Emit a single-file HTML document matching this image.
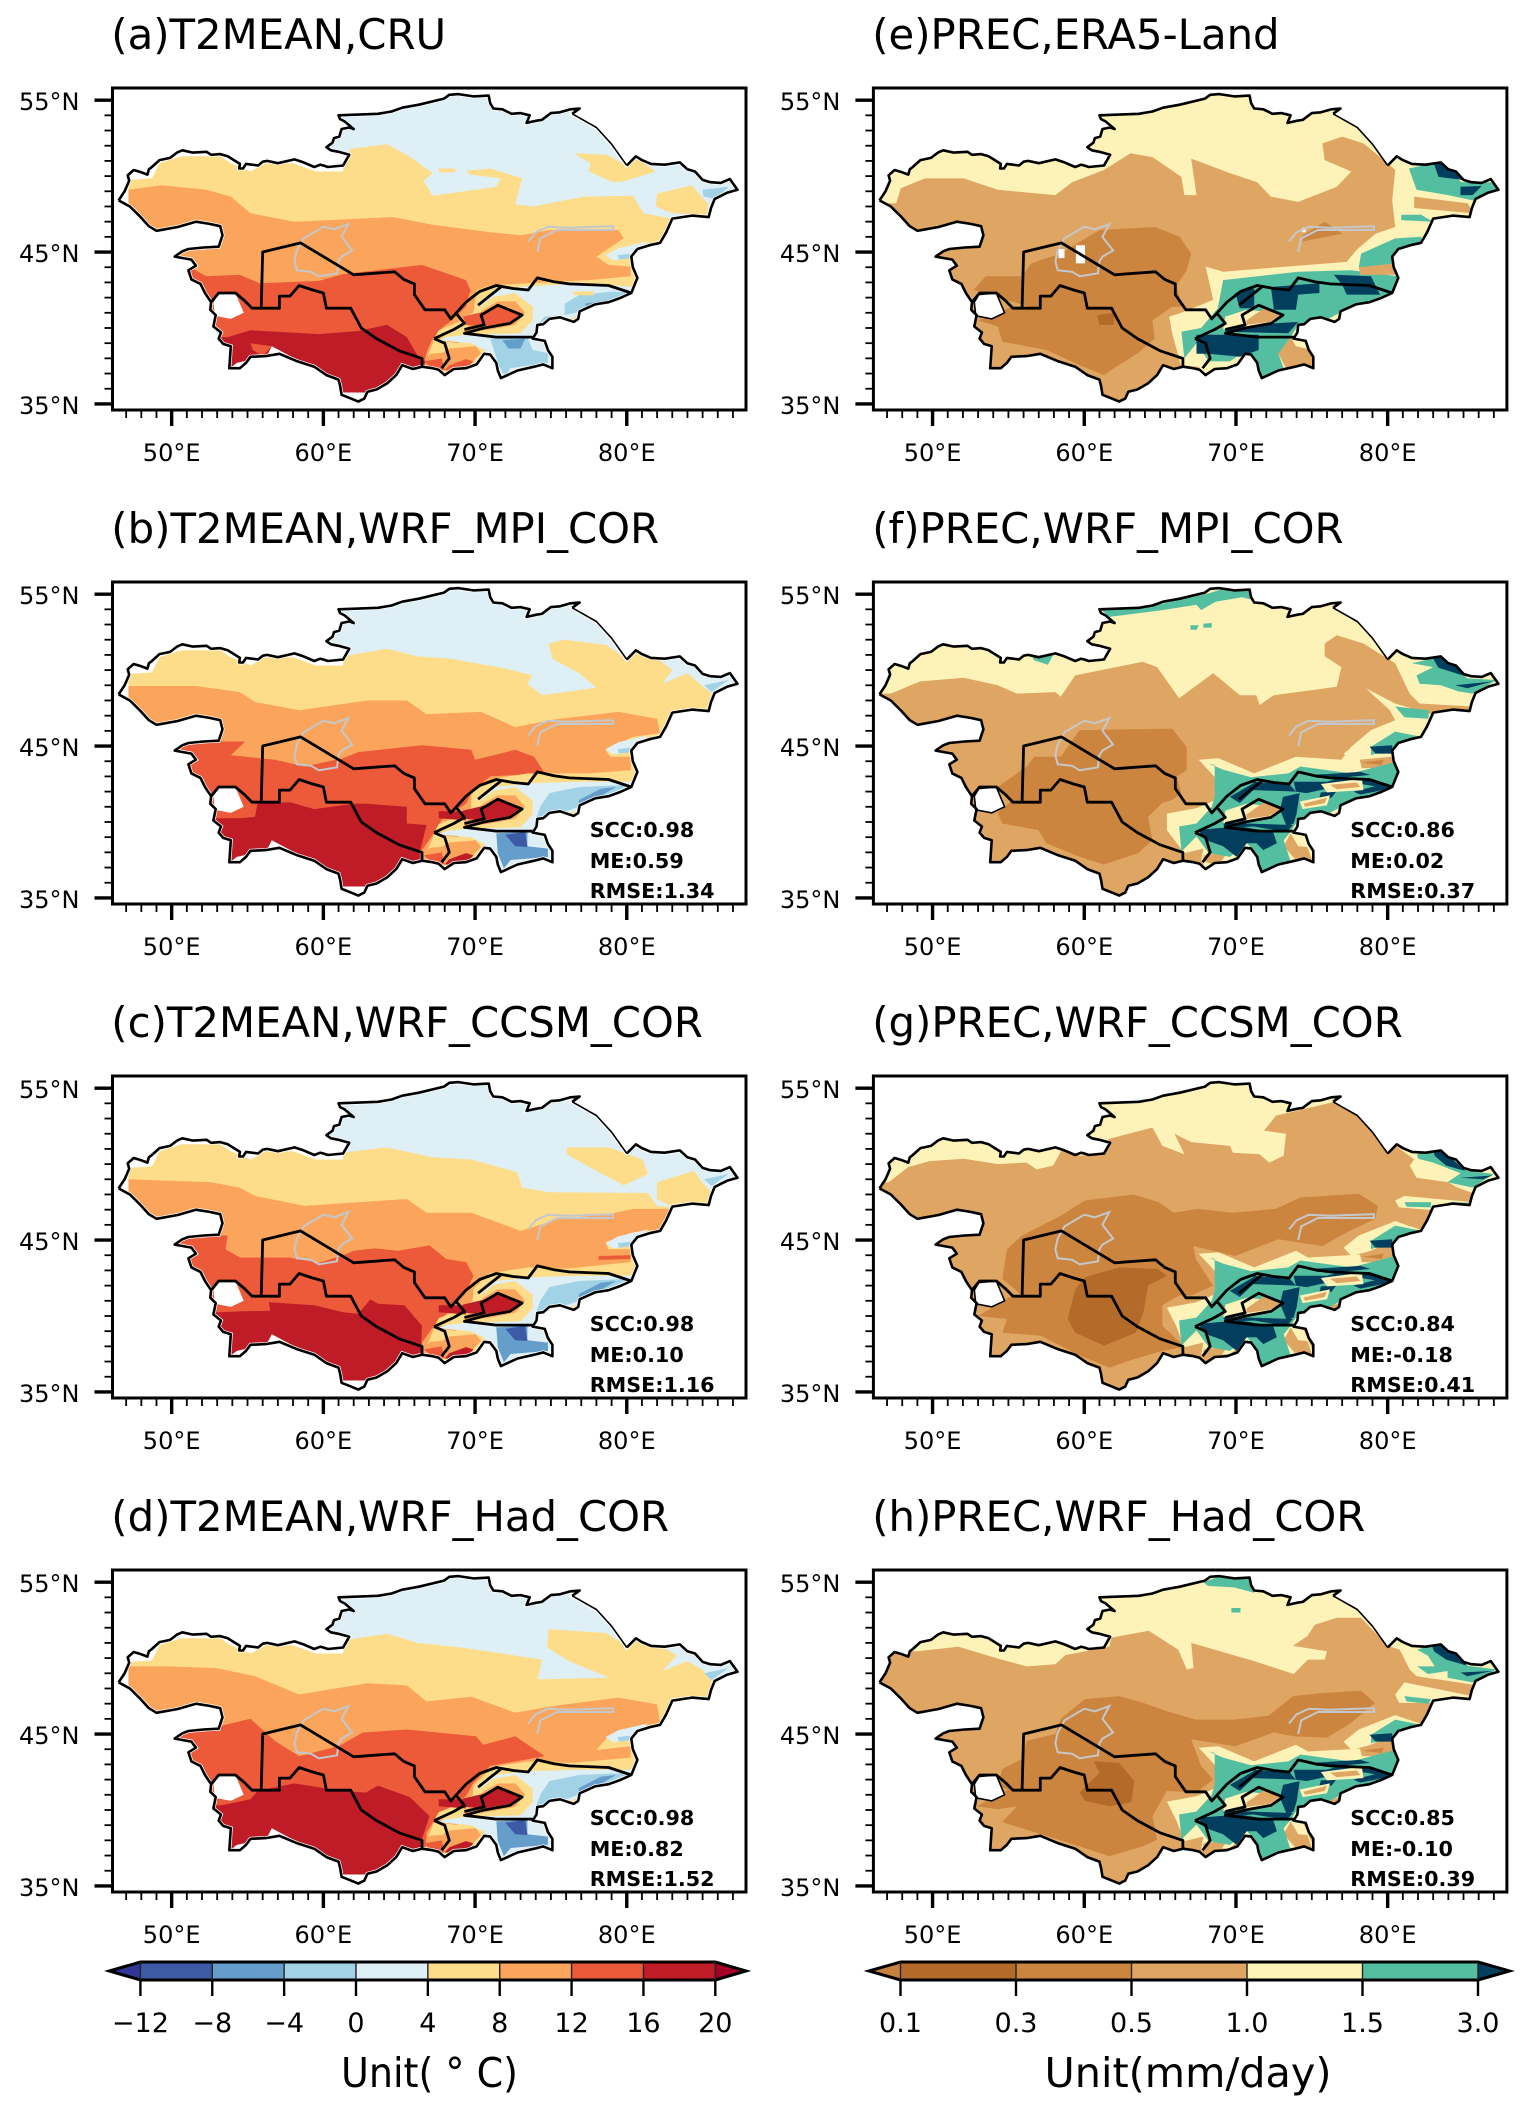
<!DOCTYPE html>
<html lang="en">
<head>
<meta charset="utf-8">
<title>Central Asia T2MEAN and PREC maps</title>
<style>
html,body{margin:0;padding:0;background:#fff;width:1530px;height:2113px;overflow:hidden}
svg{display:block;font-family:"DejaVu Sans","Liberation Sans",sans-serif}
</style>
</head>
<body>
<svg id="figure" xmlns="http://www.w3.org/2000/svg" width="1530" height="2113" viewBox="0 0 1530 2113"></svg>
<script>
/* ---------- labels and statistics ---------- */
const panelTitles=['(a)T2MEAN,CRU','(b)T2MEAN,WRF_MPI_COR','(c)T2MEAN,WRF_CCSM_COR','(d)T2MEAN,WRF_Had_COR','(e)PREC,ERA5-Land','(f)PREC,WRF_MPI_COR','(g)PREC,WRF_CCSM_COR','(h)PREC,WRF_Had_COR'];
const sccValues=['','0.98','0.98','0.98','','0.86','0.84','0.85'];
const meValues=['','0.59','0.10','0.82','','0.02','-0.18','-0.10'];
const rmseValues=['','1.34','1.16','1.52','','0.37','0.41','0.39'];
const lonTicks=[50,60,70,80];
const latTicks=[35,45,55];
const tBarLabels=['\u221212','\u22128','\u22124','0','4','8','12','16','20'];
const pBarLabels=['0.1','0.3','0.5','1.0','1.5','3.0'];
const tColors=['#313695','#3c5aa6','#659ecb','#a1d2e6','#deeff6','#fedd8a','#fba55c','#ec5a3a','#bf1c27','#a50026'];
const pColors=['#c6823c','#b46a28','#cc853f','#dfa663','#fdf2b8','#53bfa0','#023f5f'];

/* ---------- geography, lon/lat pairs ---------- */
const outlineWest=[46.5,48.4,46.9,49,47.2,49.7,47.1,50.05,47.5,50.4,48,50.25,48.4,50.1,48.5,50.45,48.7,50.6,49.2,51.05,49.9,51.2,50.35,51.55,50.7,51.7,51.4,51.55,52.3,51.6,52.6,51.4,53.2,51.45,53.7,51.3,54.1,51.05,54.5,50.8,54.45,50.5,54.7,50.5,54.9,50.8,55.7,50.7,56,50.95,56.3,51,57,50.85,58.1,51.1,58.7,50.9,59.4,50.6,59.8,50.75,60,50.7,60.3,50.6,61.3,50.7,61.7,51.4,61,51.6,60.5,51.7,60.2,51.9,60.6,52.2,60.7,52.5,61.05,52.6,61.2,53.1,61.7,53.2,62,53.1,61.4,53.6,61.1,53.75,61,54,62.3,54.05,63.6,54.1,64.5,54.25,65.2,54.5,66.3,54.7,67.96,55.1,68.3,55.35,68.9,55.4,69.9,55.25,70.9,55.3,71,54.8,71.2,54.45,71.8,54.4,72.4,54.1,73,54.15,73.6,54,73.4,53.5,74.05,53.65,74.4,53.7,75,54.15,75.6,54.2,76.3,54.4,76.9,54.45,76.4,54.1];
const outlineEast=[76.4,54.1,78,53.2,79,52.1,80,50.7];
const outlineSouth=[80,50.7,80.6,51.3,81,51.05,81.6,50.8,82.5,50.75,83.5,50.9,84,50.45,84.5,50.3,85,49.75,85.5,49.6,86.2,49.55,86.8,49.8,87.3,49.1,86.6,48.9,85.8,48.5,85.55,47.9,85.4,47.3,84.3,47.4,83,47.2,82.6,46.3,82.2,45.6,81.5,45.45,80.7,45.2,80.3,44.7,80.4,44,80.7,43.3,80.5,42.8,80.3,42.3,79.5,41.95,78.8,41.7,77.9,41.55,76.9,41.1,76.8,40.6,76.5,40.4,75.6,40.7,74.9,40.6,74.5,40.25,74.1,40.2,74.05,39.7,73.8,39.3,74.6,39.15,74.8,38.55,75.1,38.1,75.1,37.35,74.5,37.6,73.9,37.45,72.8,37.2,71.7,36.7,71.5,37.2,71.4,37.7,71,38.25,70.6,38.3,70.1,37.6,69.4,37.35,68.6,37.3,68,36.9,67.6,37.25,67.2,37.35,66.5,37.45,65.9,37.3,65.2,37.55,64.8,36.9,64.2,36.35,63.5,35.95,62.9,35.8,62.7,35.35,62.3,35.15,61.7,35.4,61.2,35.6,61.1,36.2,61,36.6,60.2,36.9,59.4,37.45,58.3,37.8,57.1,38.3,56.2,38.15,55.2,38.1,54.9,37.7,54.5,37.35,53.8,37.35,53.85,38.1,53.9,38.8,53.4,38.95,53.1,39.3,53.25,39.7,52.75,40.1,52.9,40.85,52.55,41.2,52.6,41.7,52.2,42.3,51.9,42.9,51.3,43.2,51.1,43.8,51.6,44.1,51.3,44.5,50.2,44.7,50.7,45.05,51.1,45.2,52.1,45.3,53.1,45.35,53.35,46.1,53.2,46.7,52.5,46.85,51.6,47,50.4,46.65,49,46.4,48.5,46.7,47.95,47.3,47.25,48,46.5,48.4];
const outline=outlineWest.concat(outlineEast,outlineSouth);
const borderNorth=[55.9,41.3,56,45,58.5,45.6,62,43.5,63.3,43.6,64.7,43.7,65.3,43.2,66,42.9,66,42.2,66.7,41.2,68,41.2,68.4,40.6,69.4,41.7,70.3,42.4,71.4,42.8,72.5,42.6,73.5,42.5,74.1,43.3,75.2,43.05,76.2,42.9,78.8,42.8,80.3,42.3];
const borderTurkmen=[52.6,41.7,53.1,42.3,54.2,42.3,54.8,41.8,55.3,41.3,57.1,41.3,57.1,42.1,57.8,42.1,58.4,42.8,59.3,42.5,60,42.3,60.2,41.3,61.8,41.3,62.5,40,63.5,39.3,65,38.5,66.5,38,66.5,37.45];
const borderTajikWest=[67.3,39.3,68,39,68.3,38,67.8,37.35];
const borderTajikUpper=[67.3,39.3,68.6,39.9,69.3,40.3,68.8,40.9];
const borderFergana=[69.3,39.9,70.6,40.2,70.4,40.85,71.5,41.5,73.1,40.85,72.3,40.3,70.6,40,69.3,39.65,71.4,39.4,73.8,39.4];
const borderTashkent=[70.2,41.5,71.2,42.3,71.7,42.7];
const lakeKara=[53.05,42.2,54.2,42.3,54.75,41,53.9,40.6,52.85,40.8,52.75,41.7];
const lakeAral=[60,46.67,60.7,46.5,61.65,46.84,61.2,46,61.9,45.1,61.2,44.7,61,44.4,60.9,43.6,59.7,43.4,59.2,43.7,58.25,43.8,58.1,44.4,58.25,45.1,58.7,45.9,60,46.67];
const lakeBalkhash=[73.5,45.7,74,46.3,74.8,46.67,76.2,46.6,77.5,46.65,79.1,46.7,79.1,46.45,77.5,46.45,75.4,46.45,74.3,45.9,74.1,45];
const tMaskNorthWest=[46,49.75,47.25,49.75,48.7,49.85,49.2,50.85,50.65,51.3,53.2,51.3,53.9,50.85,55.2,50.3,56.2,50.85,58,50.85,59.5,50.3,61.3,50.3,61.35,50.8,60.5,51.3,59.5,52.5,46,52.5];
const tMaskWest=[46,47.9,47.15,47.9,47.15,49.8,46,49.8];
const tMaskSouth=[60,35.75,64,35.75,64,34,60,34];
const tMaskSouthWest=[53.9,37.4,54.3,37.7,55.2,37.9,54.5,37.3];
const tMaskSouthPeak=[56.3,38.2,56.6,38.8,58.1,38,57,38.1];

/* ---------- temperature contours ---------- */
const a4=[45.1,52.8,59.4,51.9,61.5,51.3,61.8,51.8,64.2,52.1,65.5,51.4,67.2,50.2,66.6,49.7,67.2,48.7,71.4,49.3,71.7,49.85,69.7,50.1,69.4,50.35,71,50.5,72.3,50.1,73.1,49.85,72.65,48.15,73.8,48,77.2,48.65,80.4,48.7,81.1,47.55,83,47.2,82.2,45.8,80.7,44.9,84,33,45.1,33];
const a4North=[76.5,51.5,78.7,51.4,80,50.7,80.6,51.25,81.9,50.3,79.8,49.65,79.1,49.6,77.5,50.3,77.6,50.85];
const a4East=[82,48.85,84.3,49.4,84.9,48.65,85.35,48.2,85.3,47.45,83,47.55,81.9,48];
const a4Strip=[67.6,50.5,68.7,50.5,68.7,50.25,67.6,50.25];
const aEastCold=[85,49.1,86.7,49.3,85.9,48.5,85.05,48.65];
const a8=[45.1,49.1,47.15,49.1,49.35,49.4,52.3,49.1,53.9,48.65,55.2,47.55,58.1,47,64.6,47.3,67.2,46.8,71,46.3,73,46.1,74.9,46.45,79.45,46.45,79.8,45.9,78,44.7,78.8,44.15,80.25,44.05,80.25,43.4,77.5,43.15,73.5,42.95,71,42.8,70.1,42.5,69.7,39.65,66.8,37.45,66.5,33.1,45.1,33.1];
const a12=[48.4,44.05,51.1,44.05,52.3,43.4,54.5,43.5,55.8,42.95,59.7,43.1,61.3,43.55,66.5,44.15,69.4,43.15,69.7,42.5,69.4,41.4,68.45,40.5,67.8,40,67.15,39.2,66.8,38.35,66.65,37.7,67,37,66.8,33.1,48.4,33.1];
const a16=[51.6,39.4,53.7,39.4,55.2,39.85,59.7,39.6,62.3,39.8,64.2,40.2,65.5,39.4,66.2,38.2,66.75,37.8,64.6,33.1,51.6,33.1];
const aPatch=[55.2,39,56.6,38.8,56,38.15,55.35,38.55];
const aPamirCool=[71,39.3,73.45,39.4,73.8,38.55,74.8,38.35,74.8,37.7,72.3,37.35,72,36.8,71.6,37.45];
const aPamirCold=[71.8,39.2,73.3,39.3,73,38.65,72.2,38.65];
const aTianCool=[75.9,41.6,76.85,42.15,79.1,42.4,80.25,42.3,76.85,41.05,74.9,40.65,74.1,40.2,74.6,40.75,75.9,40.85];
const aTianCold=[77.2,41.6,78.8,41.85,77.5,41.3];
const aTianWarm=[76.5,42.4,77.8,42.4,77.8,42.15,76.5,42.15];

const b4=[45.1,52.85,59.4,52,61.3,50.9,64.2,51.4,66.2,50.9,68.45,50.75,72,50.1,73.8,49.65,73.45,49.1,74.4,48.35,78,48.85,76.85,49.8,75.1,50.75,74.85,51.75,75.9,52,78.65,51.65,80.05,50.7,80.6,51.3,82.2,50.65,83,50,82.35,49.1,84,49.8,84.8,49.1,85.6,48.45,85.45,47.15,83,46.9,82.2,45.6,84,33,45.1,33];
const b8=[45,48.95,47.15,48.95,51.6,48.95,54.5,48.55,55.5,47.9,58.4,47.35,62.9,48,65.5,48,66.8,47.1,70.4,47.25,72.65,46.25,75.2,46.75,79.45,47.25,82,46.8,82.2,45.85,80.4,45.6,78.6,44.75,78.9,44.3,80.25,44.3,80.25,43.4,77.5,43.2,74.6,43.2,71,42.75,69.75,41.9,69.75,39.7,66.8,37.5,66.5,33,45,33];
const b12=[48.4,45.3,51.25,45.3,54.85,45.3,53.9,44.4,56.8,44.1,58.75,43.65,61.3,44.2,62.3,44.6,66.5,45.05,69.75,44.75,70,44.1,72.65,44.75,73.9,44.3,74.6,43.2,71,43,69.85,42.1,69.4,41.2,67.8,40.15,67.15,39.05,66.35,37.95,66.65,33,48.4,33];
const b16=[51.6,40.25,54.5,40.25,55.5,40.35,55.65,41.2,57.8,41.3,59.4,40.85,62,41.2,62.9,41.2,65.5,41,65.5,39.9,66.8,39.8,66.5,38.6,66.35,38.05,66.5,33,51.6,33];
const c4=[45.1,52.85,59.4,52,61.3,50.75,64.2,51.1,67.15,50.45,69.75,50.3,72.8,49.45,73.1,48.45,74.9,48.15,81.4,48.1,82,47.25,83,47.15,82.2,45.7,84,33,45.1,33];
const c4North=[76.05,51.1,78.8,51.1,81.05,50.3,81.4,49.35,79.8,48.6,77.8,49.65,76.05,50.65];
const c4East=[82,48.8,84.45,49.55,84.95,48.8,85.6,48.15,85.45,47.25,83,47.15,82,47.7];
const c8=[45,49,47.15,49,52.6,48.8,54.5,48.45,55.5,47.9,58.75,47.25,65.5,47.7,66.8,46.8,69.75,46.8,73,45.6,75.55,46.4,78.8,46.7,80.4,47.05,82.9,47.05,82.2,45.7,80.4,45.5,78.6,44.85,78.8,44.4,80.25,44.4,80.25,43.55,75.9,43.1,71,42.85,69.9,41.8,69.75,39.8,66.8,37.6,66.5,33,45,33];
const c12=[48.4,45.3,51.3,45.3,53.7,45.3,53.55,44.4,54.5,43.85,57.75,43.85,59.7,43.5,61.3,44,62,44.3,63.4,44.45,64.9,44.3,67,44.65,68.1,43.75,69.4,43.55,69.9,42.65,69.4,41.55,67.8,39.8,67.15,39.15,66.5,38.25,66.5,33,48.4,33];
const c12East=[78.15,43.95,80.25,44,80.25,43.75,78.15,43.7];
const c16=[51.6,40.25,53.25,40.25,54.5,40.3,56.5,40.35,56.4,40.9,59.4,40.7,61.3,40.25,62.3,40.15,63.1,41.1,63.6,40.8,65.35,40.7,66.5,39.35,66.45,38.15,66.5,33,51.6,33];
const d4=[45.1,52.85,59.4,52,61.3,50.6,61.8,51.25,64.2,51.6,66.2,51,69.1,50.7,74.4,49.9,74.15,48.6,78.85,48.7,76.2,49.8,74.75,50.7,74.85,51.9,78.65,51.65,80,50.8,80.6,51.3,82.35,50.75,83.3,50.15,82.35,49.15,84,49.8,84.95,49.25,85.6,48.5,85.45,47.15,83,47.15,82.2,45.75,84,33,45.1,33];
const d8=[45,49.45,47.15,49.45,49.7,49.45,52.9,49.35,55.5,48.8,58.4,47.6,62.9,48.35,65.5,48.2,66.8,47.15,69.75,47.45,72.65,46.4,75.2,46.85,79.45,47.4,82,46.95,82.2,45.75,80.4,45.4,78.6,44.65,78,43.95,80.25,44.2,80.25,43.45,77.5,43.2,71,42.7,69.9,41.6,69.75,39.8,66.8,37.4,66.5,33,45,33];
const d12=[48.4,45.3,51.25,45.3,53.1,45.5,55.2,46,56.8,44.55,58.4,43.55,61,44.2,62.6,45.1,65.5,45.3,70.05,44.85,70.55,44.3,72.65,44.85,74.6,43.55,71,42.9,69.9,41.8,69.4,40.9,67.5,39.6,66.8,38.5,66.5,33,48.4,33];
const d16=[51.6,40.3,53.25,40.3,55.2,40.7,55.65,41.25,58.1,41.75,60,41.45,61,41.25,62.8,41.15,63.6,41.6,65.7,40.85,67,39.6,66.5,38.1,66.5,33,51.6,33];
const tEastCool=[85.1,49,86.7,49.35,85.6,48.55];
const tLakeLight=[78.6,44.8,79.45,45.25,81.4,45.7,80.25,44.6,79.1,44.45];
const tLakeCool=[79.4,44.8,80.3,44.9,80.3,44.6,79.5,44.5];
const tmLight=[70.2,41.3,71.2,42.5,73.6,42.75,77.5,42.95,80.4,42.7,80.4,41.85,76.9,40.75,74.9,40.4,74.1,40,73.95,39.4,75.1,38.55,75.25,37.25,71.7,36.6,71,37.7,70.55,38.55,69.75,39,67.5,39.2,68.8,39.65,73,40,73.8,40.75,73.8,41.4,72.65,42.2,71.4,41.75];
const tmNorthBand=[71.2,42.85,73.5,43.2,79.1,43,80.4,43.2,80.25,42.65,76.85,42.65,73.6,42.55,71.4,42.3];
const tmRing=[71.2,42.05,72.65,42.3,73.8,41.4,73.8,40.5,73,39.65,69.4,39.55,67.3,39.3,67.6,39.85,69.2,40.5,70.2,41.3];
const tmRingWarm=[71.5,41.75,72.65,41.75,73.3,41,72.65,40.2,70.7,39.85,69.3,39.75,69.8,40.5,70.55,41.2];
const tmFergana=[71.5,41.5,73.1,40.85,72.3,40.4,70.55,40.1,69.4,40.2,69.2,40.75,70.7,41.1];
const tmTajikYellow=[66.9,38.2,67.3,39.2,69.75,38.9,70.7,38.55,69.4,37.45,68.1,37.2,67.15,37.9];
const tmTajikOrange=[68.3,38.65,70.05,38.8,70.4,38.35,69.4,37.35,68,37.2,66.8,37.65,67,38.3,67.8,38.35];
const tmTajikRedWest=[66.65,37.8,67.8,38,68,37.2,67.2,37.25];
const tmTajikRedEast=[68.3,37.55,69.4,37.95,69.9,37.8,69.3,37.15,68,37.2];
const tmTianCool=[74.9,41.9,76.85,42.3,80.25,42.45,76.85,41,74.9,40.35,74,40.15,74.3,41];
const tmTianCold=[76.85,41.45,78.3,42.2,79.3,42.3,77.65,41.35,76.8,41];
const tmPamirCold=[71.4,39.25,73.45,39.35,73.45,38.4,74.8,38.25,74.8,37.7,72.35,37.5,71.9,36.95,71.5,37.95];
const tmPamirCore=[72,39.15,73.3,39.35,73.45,38.35,72.65,38.4];
const tmFerganaHot=[67.6,40.7,69.4,40.7,69.4,40.1,67.6,40.25];

/* ---------- precipitation contours ---------- */
const e1=[42.5,48.2,47.6,48.2,47.9,49.2,49.5,49.85,52.05,49.85,54.3,49.1,58.1,48.75,59.2,49.6,61.3,50.4,63.05,51.5,64.5,51.25,66.4,49.95,66.6,48.75,67.4,48.75,67.05,51.15,69.6,50.2,71.4,49.6,72.3,48.65,74.1,48.3,76.65,49.3,77.6,50.3,75.85,51.05,75.7,52.15,77,52.6,78.4,52.15,80,50.85,80.5,50.4,80.3,48.4,80.5,46.65,79.2,46.2,77.95,45.15,77.3,44.35,72.8,44,69.15,43.7,68,44.05,68.5,41.85,66.4,41,65.6,40.75,65.8,39.65,66.4,37.45,67.55,37.45,68,36.8,69.95,37.1,68,33.1,42.5,33];
const e1East=[81.75,48.65,85.3,48.2,85.6,47.55,81.75,47.9];
const e1Dzungar=[78.1,44,80.5,44.25,80.65,43.5,78.2,43.5];
const e1Pamir=[73.6,39.4,73.95,38.8,75.05,38.55,75.2,37.25,73.3,37.35,72.8,38.3];
const e03=[52.7,42.5,53.5,43.4,55.9,43.4,56.5,44.25,58.4,44.9,61,46.45,64.65,46.65,66.3,46,67.05,44.9,66.75,43.8,66.1,42.85,66.4,41.4,65.8,41.4,64.5,40.5,64.65,39.3,63.55,38.35,61.95,37.35,61.3,36.9,59.7,37.55,57.5,38.55,54.6,39.1,54.3,40.1,53,40.5,55.25,41.4,56.35,41.4];
const e03Balkhash=[74.4,46.1,75.85,47,77,46.2,74.4,45.7];
const e01=[60.85,40.85,62,41,61.95,40.2,61,40.2];
const eTealNE=[81.4,50.5,83,50.85,84.9,49.6,86.8,49.6,87.5,49,85.6,48.4,84,48.75,81.9,49.1];
const eNavyNE=[83,50.95,83.8,50.95,84.9,49.75,83.35,49.95];
const eNavyAltai=[84.8,49.3,86.2,49.35,85.6,48.75,84.8,48.75];
const eTealBar=[80.9,47.45,82.2,47.45,83,47,80.9,47.1];
const eTealBarEast=[84.7,47.3,85.6,47.35,85,46.9];
const eTealDzungar=[78.25,44.9,80.5,45.9,82.2,46,82.55,45.25,80.4,44.7,80.3,44.05,78.1,44];
const eTealTian=[69.15,43.15,74.1,43.7,77.6,43.8,80.7,43.4,80.4,42.4,76.95,41.05,75.7,40.4,74.1,40.2,73.6,39.4,72.8,38.3,73.15,37.35,71.7,36.7,71.4,37.7,70.75,38.55,69.6,37.8,68.2,37.8,67.4,39,66.6,38,66.4,39.75,67.7,40,68.8,41.3];
const eNavy1=[69.95,42.3,71.2,42.6,71.2,41.3,70.25,41.3];
const eNavy2=[72.3,42.7,75.5,42.95,75.5,42.3,74.1,42.2,73.95,41.2,72.5,41.2];
const eNavy3=[76.45,43.5,78.9,43.4,79.5,42.2,77.3,42.2,77,42.85];
const eNavy4=[67.4,39.55,71.5,39.55,71.5,38.55,70.25,38.1,68.2,38.3,67.4,38.3];
const eNavy5=[69.3,40.1,74.1,40.4,73.45,39.65,69.3,39.75];
const ferganaCream=[69.3,40.75,70.7,41.2,73.15,40.95,72.35,40.3,69.9,40,69.15,39.9];
const ferganaTan=[70.7,40.5,71.85,41.3,73,40.85,72.2,40.4,70.7,40.2];
const eWhite1=[58.3,45.2,58.7,45.2,58.7,44.6,58.3,44.6];
const eWhite2=[59.45,45.45,60.05,45.45,60.05,44.25,59.45,44.25];
const eWhite3=[74.35,46.6,74.6,46.6,74.6,46.3,74.35,46.3];

const f1=[42.5,48.45,47.25,48.45,49.15,49.25,52.05,49.5,54.3,49,55.55,48.45,58.1,48.55,58.45,48.25,59.4,49.65,63.85,50.55,64.8,50.2,66.25,48.15,68.5,49.8,70.25,48.35,71.35,48.35,71.55,47.7,72.5,48.35,76.65,48.9,76.95,50.2,75.85,50.9,75.85,51.75,76.65,52.3,78.4,51.75,80,50.75,80.5,50.45,81.45,48.45,82.1,47.8,85.6,47.6,85.45,46.9,83,47.05,80.5,47.8,78.55,48.8,80.15,47.35,80.5,46.7,78.9,46.05,77.6,44.95,76.95,44.1,73.95,44.3,73.75,43.4,71.2,43.2,69.95,43.4,68.65,43.85,67.55,44.1,68.8,42.75,68.65,41.45,67.4,40.9,65.45,40.55,65.45,39.45,66.6,37.95,66.75,37.4,67.85,37.4,68,33,42.5,33];
const f03=[54.3,42.3,56.2,43.65,56.7,44.3,58.45,44.3,59.7,46.05,65.8,46.15,66.75,44.95,66.75,43.4,66.1,43,66.4,41.9,65.8,41.45,65.15,41.25,64.2,40.35,64.5,38.8,63.55,37.95,61.3,37.2,59.7,37.7,57.5,38.6,57,39.45,54.6,39.9,54.3,40.6,55.25,41.45];
const fTealNorth=[61.15,53.95,64.85,54.3,68.2,55.05,69.15,55.35,71.05,55.25,71.2,54.6,70.4,54.8,68.65,54.5,67.7,53.95,67.4,54.3,65.15,53.95,61.65,53.5];
const fSpot1=[67,52.95,67.55,52.95,67.4,52.65,67,52.65];
const fSpot2=[67.85,53.05,68.4,53.1,68.4,52.8,67.85,52.8];
const fSpot3=[56.5,51,57.95,51,57.6,50.35,56.7,50.65];
const fTealNE=[81.6,50.45,82.9,50.75,84.3,50.2,85.25,49.45,87.2,49.35,85.6,48.45,84.65,48.6,83.5,49,82.1,49.1,81.9,49.65,83,50.2];
const fNavyNE=[82.9,50.9,83.85,50.9,85.25,49.55,83.35,50.15];
const fNavyAltai=[84.45,49,86.9,49.25,85.25,48.8];
const fTealBar=[80.5,47.6,82.7,47.35,82.7,46.8,81.1,46.9];
const fTealBarEast=[84,47.35,85.6,47.35,84.95,46.9];

const g1=[42.5,48.8,47.1,48.8,48.4,49.8,49.8,50.2,52.05,50.35,54.3,50,56.2,50.1,56.85,49.65,57.95,49.9,58.6,51.1,59.7,50.55,61.45,50.75,61.6,51.65,64.5,52.4,65.15,51.2,66.6,50.65,65.95,52,67.05,51.45,69.6,51.2,69.8,50.75,71.55,50.65,72.2,50.1,73.15,50.55,73.3,52,71.85,52.2,72.65,53.2,74.4,53.6,76.3,54.05,76.8,54.15,80.8,51,81.75,50.3,81.45,49.9,81.9,49.1,84,48.8,84.6,48.45,85.6,48.1,85.6,33,42.5,33];
const g03=[58.45,46.6,60.05,47.6,63.25,48,64.9,47.5,65.9,46.8,67.5,47.05,69.75,46.8,72.6,47.05,74.25,47.8,78.1,48.05,79.35,47.25,79.2,46.4,77.3,45.5,75.7,44.6,72.8,45.05,69.95,43.95,67.2,44.6,67.35,43.75,68.5,42,67.05,41.35,66.25,41.35,65.15,40.7,65.15,39.35,66.6,38,64.8,37.6,63.25,37.15,61.65,36.6,59.7,37.4,57.15,38.7,54.6,38.9,54.9,39.8,53,40,55.25,41.35,55.9,41.35,54.6,42.45,54.9,44.4,55.9,45.3];
const g01=[60.05,42.55,62.3,43.2,64.85,43.1,65.45,42.65,64.2,42,63.9,40.25,63.4,38.9,61.3,38.05,59.4,38.9,58.9,39.8,59.4,41.75];
const gCreamBar=[80.5,47.6,81.1,47.9,85.6,47.5,85.45,47,82.7,47,80.75,47.15];
const gTealBar=[81.1,47.5,82.85,47.5,82.85,47.15,81.25,47.2];
const gTealBarEast=[84,47.5,85.6,47.45,85,47];
const gTealNE=[81.95,50.65,83,51,83.9,50.55,85.25,49.55,87,49.35,85.6,48.45,83.95,48.8,84.8,49.4,83,50.1,82,50.35];
const gNavyNE=[83,51,83.85,50.75,85.1,49.55,83.85,49.9,83.1,50.55];
const gNavyAltai=[84.8,49.1,86.9,49.25,86.25,49];

const h1=[42.5,50.45,49,50.45,51.7,50.75,54.55,49.9,56.2,49.45,58.1,49.6,58.75,50.2,61.65,50.75,61.8,51.35,64.25,51.8,66.2,50.55,66.75,49.25,67.2,49.35,67.05,51,71.2,49.8,73.8,48.95,74.75,49.9,75.85,49.9,76,50.45,73.75,50.8,74.7,51.45,75.2,52.2,76.65,52.65,78.25,52.65,80,50.8,80.8,50.55,81.45,49.25,81.9,48.8,84,48.5,85.6,48.25,85.6,33,42.5,33];
const h03=[54.3,41.6,54.6,42.7,55.9,43.35,56.2,44.55,58.1,45,58.45,46,60.05,47.3,62.3,47.5,63.9,47.05,65.45,46.5,67.35,45.95,69.9,45.95,72.15,46.2,73.75,47.5,75.7,47.7,78.25,47.85,79.15,47.05,77.6,45.75,76,44.75,73.75,44.85,72.5,45.1,69.95,44.2,67.05,44.65,67.7,42.9,68.5,42,67.4,41.15,65.45,41.25,64.5,39.6,64.8,38.05,63.85,37.6,61.65,36.95,59.7,37.6,57.15,38.4,54.6,39.2,55.55,40.25,54.3,40.05,52.9,40.25,55,41.35];
const h01=[59.7,41.15,61,42.45,60.65,43.2,62.3,43.1,63.3,41.9,63.1,40.5,61.65,40.25,60.05,40.6];
const hCreamBar=[80.5,47.6,81.1,48.4,85.6,47.5,85.45,46.95,83,47.05,80.75,47.05];
const hTealBar=[81.1,47.5,82.85,47.3,82.7,47,81.25,47.15];
const hTealBarEast=[84,47.3,85.6,47.4,85,46.95];
const hTealNE=[81.95,50.55,83,50.9,83.95,50.7,85.25,49.5,87.2,49.25,85.6,48.4,83.95,48.7,83.95,49.15,82.65,48.95,81.95,49.45,83.1,49.45,82.65,50.15];
const hNavyNE=[82.9,50.9,83.85,51,85.25,49.5,83.85,49.9,83.05,50.45];
const hNavyAltai=[84.8,49.05,86.9,49.15,85.25,48.8];
const hTealNorth=[67.85,55,69,55.4,71.05,55.3,71.2,54.3,69.9,54.65,68.15,54.75];
const hSpot=[69.7,53.3,70.3,53.3,70.3,53,69.7,53];

const pCreamTian=[67.55,44.1,68.85,44.2,71.2,43.2,73.95,44.3,74.75,43.85,79.2,44.1,80.8,43.65,80.8,42.3,76.95,40.9,74.1,39.9,75.2,37.4,71.7,36.65,70.75,38.4,69.6,37.5,67.85,37.4,66.75,37.4,66.6,37.85,66.1,39.25,65.45,40.55,67.4,40.9,68.65,41.45,68.8,42.75];
const pCreamDzungar=[77.1,44.5,78.1,45.3,80.5,46.25,82.4,45.6,80.3,44.95,78.9,44.3,77.6,43.95];
const pTanSW=[66.6,37.95,67.85,38.25,67.7,37.4,66.75,37.4];
const pTanSW2=[67.85,37.8,69.45,38,68.85,37.15,67.85,37.4];
const pTanPamir=[73.6,39.25,74.1,38.4,74.7,38.35,75.05,37.4,73.95,37.5,73.15,38.4];
const pTanDzungar=[78.15,44.1,80.25,44.3,80.65,43.55,78.3,43.55];
const pBrownDzungar=[78.3,43.9,79.75,44.1,79.6,43.75];
const pTealTian=[74.25,43.65,77.6,43.2,80.5,43.95,80.8,43.4,80.3,42.3,76.95,41,75.7,40.35,74.1,40.15,73.6,39.35,73.15,38.8,73.6,37.4,71.7,36.75,71.4,37.7,70.75,38.6,69.6,37.7,68.2,37.95,67.4,39.05,66.4,38.05,66.25,39.7,67.4,39.9,68.4,41,68.6,41.65,68.6,42.6,68.6,43.75,68.2,43.85,69.15,43.45,71,42.95,73.45,43.2];
const pTealDzungar=[78.9,44.95,80.5,45.95,82.25,45.6,80.3,44.85,78.9,44.4];
const pNavyDzungar=[78.8,44.95,80.3,45.05,80.3,44.5,79.2,44.5];
const pNavyWest=[69.6,41.65,71.15,42.55,71.25,42.2,70.25,41.25];
const pNavyUpper=[71.15,42.65,73.55,42.45,73.95,42,71.15,42.1];
const pNavyBorder=[73.8,42.65,76,42.65,76.85,42.9,79.05,42.75,80.15,42.2,77.95,42.55,76,42.2,74.65,41.9,73.95,42];
const pNavyTop=[75.1,43.1,78.2,43.3,78.85,43.1,76.85,42.9,75.3,42.9];
const pNavyEast=[77.75,42,79.95,42.55,80.15,42.2,78.2,41.8];
const pNavyCentre=[73.1,41.65,74.2,41.9,74,40.55,73.8,39.9,73.35,39.7,72.9,40.8];
const pNavyMid=[75.6,41.95,76.6,42,76.3,41.6,75.5,41.6];
const pNavyAlay=[69.15,39.95,73.75,39.8,73.35,39.35,71.15,39.7,69.25,39.6];
const pNavyGissar=[67.6,39.5,70.25,39.7,72.45,39.35,72.7,38.6,71.8,38.15,71.35,38.6,70.7,38.6,70.05,37.7,69.15,38.4,68.05,38.8,67.7,39.05];
const pStreakCream1=[75.6,42.5,78.3,42.85,78.4,42.1,76,41.95];
const pStreakTan1=[76.2,42.45,77.95,42.6,78.2,42.3,76.65,42.15];
const pStreakCream2=[74.2,41.35,76.2,41.75,76,41.1,74.4,40.85];
const pStreakTan2=[74.45,41.2,76,41.6,75.85,41.25,74.55,41];

/* level index (into the colour arrays) paired with a contour polygon */
const tMountainsA=[[4,tmLight],[3,aTianCool],[2,aTianCold],[5,aTianWarm],[3,aPamirCool],[2,aPamirCold],[5,tmRing],[6,tmRingWarm],[7,tmFergana],[5,tmTajikYellow],[6,tmTajikOrange],[7,tmTajikRedWest],[7,tmTajikRedEast],[4,tLakeLight],[3,tLakeCool]];
const tMountainsModel=[[4,tmLight],[5,tmNorthBand],[3,tmTianCool],[2,tmTianCold],[2,tmPamirCold],[1,tmPamirCore],[5,tmRing],[6,tmRingWarm],[8,tmFergana],[8,tmFerganaHot],[5,tmTajikYellow],[6,tmTajikOrange],[7,tmTajikRedWest],[8,tmTajikRedEast],[4,tLakeLight],[3,tLakeCool]];
const pMountains=[[4,pCreamTian],[4,pCreamDzungar],[3,pTanSW],[3,pTanSW2],[3,pTanPamir],[3,pTanDzungar],[2,pBrownDzungar],[5,pTealTian],[5,pTealDzungar],[6,pNavyDzungar],[6,pNavyWest],[6,pNavyUpper],[6,pNavyBorder],[6,pNavyTop],[6,pNavyEast],[6,pNavyCentre],[6,pNavyMid],[6,pNavyAlay],[6,pNavyGissar],[4,pStreakCream1],[3,pStreakTan1],[4,pStreakCream2],[3,pStreakTan2],[4,ferganaCream],[3,ferganaTan]];
const layersA=[[5,a4],[5,a4North],[5,a4East],[5,a4Strip],[3,aEastCold],[6,a8],[7,a12],[8,a16],[7,aPatch]].concat(tMountainsA);
const layersB=[[5,b4],[3,tEastCool],[6,b8],[7,b12],[8,b16]].concat(tMountainsModel);
const layersC=[[5,c4],[5,c4North],[5,c4East],[3,tEastCool],[6,c8],[7,c12],[7,c12East],[8,c16]].concat(tMountainsModel);
const layersD=[[5,d4],[3,tEastCool],[6,d8],[7,d12],[8,d16]].concat(tMountainsModel);
const layersE=[[3,e1],[3,e1East],[3,e1Pamir],[2,e03],[2,e03Balkhash],[1,e01],[5,eTealNE],[6,eNavyNE],[6,eNavyAltai],[5,eTealBar],[5,eTealBarEast],[5,eTealTian],[5,eTealDzungar],[3,e1Dzungar],[6,eNavy1],[6,eNavy2],[6,eNavy3],[6,eNavy4],[6,eNavy5],[4,ferganaCream],[3,ferganaTan]];
const layersF=[[3,f1],[2,f03],[5,fTealNorth],[5,fSpot1],[5,fSpot2],[5,fSpot3],[5,fTealNE],[6,fNavyNE],[6,fNavyAltai],[5,fTealBar],[5,fTealBarEast]].concat(pMountains);
const layersG=[[3,g1],[2,g03],[1,g01],[5,gTealNE],[6,gNavyNE],[6,gNavyAltai],[4,gCreamBar],[5,gTealBar],[5,gTealBarEast]].concat(pMountains);
const layersH=[[3,h1],[2,h03],[1,h01],[5,hTealNorth],[5,hSpot],[5,hTealNE],[6,hNavyNE],[6,hNavyAltai],[4,hCreamBar],[5,hTealBar],[5,hTealBarEast]].concat(pMountains);
const panelLayers=[layersA,layersB,layersC,layersD,layersE,layersF,layersG,layersH];
const panelIds=['a','b','c','d','e','f','g','h'];

/* ---------- axis functions ---------- */
const lonDomain=[46.1,87.86];
const latDomain=[34.6,55.8];
const colLeft=[112.5,873.4];
const rowTop=[88,582,1076,1570];
const axisWidth=633.5;
const axisHeight=322;
function xOf(col,lon){return colLeft[col]+(lon-lonDomain[0])/(lonDomain[1]-lonDomain[0])*axisWidth;}
function yOf(row,lat){return rowTop[row]+(latDomain[1]-lat)/(latDomain[1]-latDomain[0])*axisHeight;}
function pathOf(col,row,pts,closed){
  let d='';
  for(let i=0;i<pts.length;i+=2){d+=(i?'L':'M')+xOf(col,pts[i]).toFixed(1)+' '+yOf(row,pts[i+1]).toFixed(1);}
  return d+(closed?'Z':'');
}
const svgNS='http://www.w3.org/2000/svg';
const fig=document.getElementById('figure');
function mk(tag,attrs,parent,txt){
  const n=document.createElementNS(svgNS,tag);
  for(const k in attrs){n.setAttribute(k,attrs[k]);}
  if(txt!==undefined){n.textContent=txt;}
  parent.appendChild(n);
  return n;
}

panelTitles.forEach(function(title,i){
  const col=i<4?0:1;
  const row=i%4;
  const isTemp=i<4;
  const colors=isTemp?tColors:pColors;
  const left=colLeft[col];
  const top=rowTop[row];
  const bottom=top+axisHeight;
  const id=panelIds[i];

  const g=mk('g',{},fig);
  
  

  const titleEl=mk('text',{x:left-1.2,y:top-39,'font-size':41.8,fill:'#000'},g,title);
  
  

  const clip=mk('clipPath',{id:'clip-'+id},g);
  
  
  const clipShape=mk('path',{d:pathOf(col,row,outline,true)},clip);
  
  

  const field=mk('g',{'clip-path':'url(#clip-'+id+')'},g);
  
  
  const base=mk('path',{d:pathOf(col,row,outline,true),fill:colors[4]},field);
  
  
  panelLayers[i].forEach(function(layer){
    const region=mk('path',{d:pathOf(col,row,layer[1],true),fill:colors[layer[0]]},field);
    
    
  });
  if(isTemp){
    [tMaskNorthWest,tMaskWest,tMaskSouth,tMaskSouthWest,tMaskSouthPeak].forEach(function(maskShape){
      const gap=mk('path',{d:pathOf(col,row,maskShape,true),fill:'#fff'},field);
      
      
    });
    const inset=mk('path',{d:pathOf(col,row,outline,true),fill:'none',stroke:'#fff','stroke-width':4},field);
    
    
  }
  if(i===4){
    [eWhite1,eWhite2,eWhite3].forEach(function(box){
      const hole=mk('path',{d:pathOf(col,row,box,true),fill:'#fff'},field);
      
      
    });
  }
  const kara=mk('path',{d:pathOf(col,row,lakeKara,true),fill:'#fff',stroke:isTemp?'none':'#000','stroke-width':1.6,'stroke-linejoin':'round'},g);
  
  
  const aral=mk('path',{d:pathOf(col,row,lakeAral,false),fill:'none',stroke:'#c4c8cc','stroke-width':2},g);
  
  
  const balkhash=mk('path',{d:pathOf(col,row,lakeBalkhash,false),fill:'none',stroke:'#c4c8cc','stroke-width':2},g);
  
  

  const countryWest=mk('path',{d:pathOf(col,row,outlineWest,false),fill:'none',stroke:'#000','stroke-width':2.6,'stroke-linejoin':'round'},g);
  
  
  const countryEast=mk('path',{d:pathOf(col,row,outlineEast,false),fill:'none',stroke:'#000','stroke-width':1.6,'stroke-linejoin':'round'},g);
  
  
  const countrySouth=mk('path',{d:pathOf(col,row,outlineSouth,false),fill:'none',stroke:'#000','stroke-width':2.6,'stroke-linejoin':'round'},g);
  
  
  [borderNorth,borderTurkmen,borderTajikWest,borderTajikUpper,borderFergana,borderTashkent].forEach(function(line){
    const b=mk('path',{d:pathOf(col,row,line,false),fill:'none',stroke:'#000','stroke-width':2.8,'stroke-linejoin':'round'},g);
    
    
  });

  const frame=mk('rect',{x:left,y:top,width:axisWidth,height:axisHeight,fill:'none',stroke:'#000','stroke-width':3},g);
  
  

  for(let lon=47;lon<=87;lon++){
    const major=lonTicks.indexOf(lon)>=0;
    const x=xOf(col,lon);
    const tick=mk('line',{x1:x,x2:x,y1:bottom,y2:bottom+(major?16:8),stroke:'#000','stroke-width':major?3.4:1.8},g);
    
    
    if(major){
      const lab=mk('text',{x:x,y:bottom+51,'font-size':24,'text-anchor':'middle',fill:'#000'},g,lon+'\u00b0E');
      
      
    }
  }
  for(let lat=35;lat<=55;lat++){
    const major=latTicks.indexOf(lat)>=0;
    const y=yOf(row,lat);
    const tick=mk('line',{x1:left-(major?18:8),x2:left,y1:y,y2:y,stroke:'#000','stroke-width':major?3.4:1.8},g);
    
    
    if(major){
      const lab=mk('text',{x:left-33,y:y+10,'font-size':24,'text-anchor':'end',fill:'#000'},g,lat+'\u00b0N');
      
      
    }
  }
  if(sccValues[i]){
    const sx=col===0?589.7:1350.3;
    const s1=mk('text',{x:sx,y:bottom-67,'font-size':20.7,'font-weight':'bold',fill:'#000'},g,'SCC:'+sccValues[i]);
    
    
    const s2=mk('text',{x:sx,y:bottom-36,'font-size':20.7,'font-weight':'bold',fill:'#000'},g,'ME:'+meValues[i]);
    
    
    const s3=mk('text',{x:sx,y:bottom-6,'font-size':20.7,'font-weight':'bold',fill:'#000'},g,'RMSE:'+rmseValues[i]);
    
    
  }
});

/* ---------- colour bars ---------- */
function drawBar(name,x0,x1,tipL,tipR,colors,labels,unit,unitX,unitLen){
  const y0=1962,y1=1980,ym=1971;
  const g=mk('g',{},fig);
  
  
  const n=labels.length-1;
  const w=(x1-x0)/n;
  const under=mk('path',{d:'M'+tipL+' '+ym+'L'+x0+' '+y0+'L'+x0+' '+y1+'Z',fill:colors[0]},g);
  
  
  const over=mk('path',{d:'M'+tipR+' '+ym+'L'+x1+' '+y0+'L'+x1+' '+y1+'Z',fill:colors[n+1]},g);
  
  
  for(let i=0;i<n;i++){
    const seg=mk('rect',{x:x0+i*w,y:y0,width:w,height:y1-y0,fill:colors[i+1]},g);
    
    
  }
  const edge=mk('path',{d:'M'+tipL+' '+ym+'L'+x0+' '+y0+'L'+x1+' '+y0+'L'+tipR+' '+ym+'L'+x1+' '+y1+'L'+x0+' '+y1+'Z',fill:'none',stroke:'#000','stroke-width':3,'stroke-linejoin':'miter'},g);
  
  
  labels.forEach(function(label,i){
    const x=x0+i*w;
    const divider=mk('line',{x1:x,x2:x,y1:y0,y2:y1,stroke:'#222','stroke-width':1.4},g);
    
    
    const tick=mk('line',{x1:x,x2:x,y1:y1,y2:1996,stroke:'#000','stroke-width':2.4},g);
    
    
    const lab=mk('text',{x:x,y:2032,'font-size':27,'text-anchor':'middle',fill:'#000'},g,label);
    
    
  });
  const u=mk('text',{x:unitX,y:2087,'font-size':41,'text-anchor':'middle',fill:'#000',textLength:unitLen,lengthAdjust:'spacingAndGlyphs'},g,unit);
  
  
}
drawBar('temperature-colorbar',140.4,715.3,109.4,746,tColors,tBarLabels,'Unit( \u00b0 C)',429.5,177);
drawBar('precipitation-colorbar',900.5,1478,869,1509.5,pColors,pBarLabels,'Unit(mm/day)',1188,287);
</script>
</body>
</html>
